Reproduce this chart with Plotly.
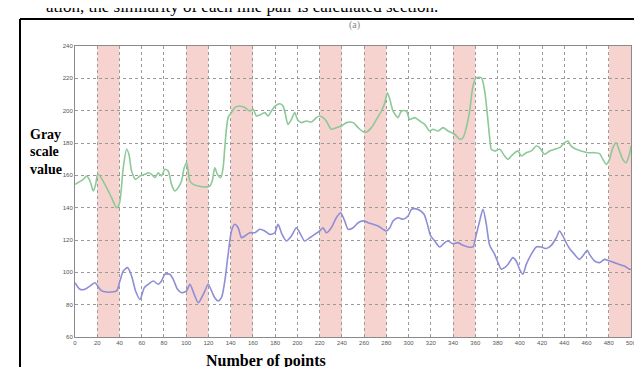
import plotly.graph_objects as go

# ---- data ----
green_x = [0, 7.5, 10.5, 13.5, 16.5, 18.6, 20.4, 22.5, 26.9, 32.9, 37.4, 39.8, 43.4, 46.4, 48.5, 50.9,
           54.5, 58.4, 62.9, 65.9, 68.9, 71.9, 74.9, 77.8, 80.8, 83.8, 86.8, 89.8, 92.8, 95.8, 98.2,
           100.3, 101.8, 103.3, 106.3, 110.8, 116.8, 121.3, 123.4, 125.7, 128.1, 131.1, 133.2, 134.7,
           137.7, 140.7, 143.7, 148.2, 152.7, 157.2, 160.2, 163.2, 166.2, 170.7, 173.7, 176.6, 180.2,
           184.1, 187.1, 189.2, 191.6, 194.6, 197.6, 200.0, 203.6, 208.1, 212.6, 217.1, 220.1, 223.1,
           226.0, 230.5, 235.0, 239.5, 244.0,
           250.1, 254.6, 259.1, 262.1, 266.6, 271.1, 275.6, 278.6, 281.0, 283.1, 286.0, 290.5, 293.5,
           298.0, 301.0, 305.5, 310.0, 314.5, 319.0, 322.0, 326.5, 331.0, 335.4, 341.4, 345.9, 348.9,
           351.9, 354.9, 357.9, 360.9, 365.4, 368.4, 370.8, 372.9, 374.4, 377.4, 381.9, 386.3, 389.3,
           393.8, 398.3, 401.3, 405.8, 410.3, 414.8, 417.8, 422.3, 426.8, 431.3, 435.7, 440.2, 443.2,
           446.2, 450.7, 455.2, 461.2, 467.2, 471.7, 474.7, 477.7, 480.7, 483.7, 486.6, 489.6, 492.6,
           495.6, 498.6, 500]
green_y = [154.4, 157.5, 159.6, 156.5, 150.3, 154.4, 160.6, 159.6, 154.4, 146.2, 140.0, 142.1, 164.7,
           176.1, 173.0, 162.7, 157.5, 159.6, 160.6, 161.6, 160.6, 158.6, 161.6, 159.6, 163.7, 162.7,
           154.4, 150.3, 152.4, 156.5, 164.7, 167.8, 162.7, 156.5, 154.4, 153.4, 152.8, 153.4, 156.5,
           164.7, 160.6, 158.6, 164.7, 177.1, 195.7, 198.8, 201.9, 202.9, 201.9, 199.8, 200.8, 196.7,
           197.3, 198.8, 196.7, 199.8, 202.9, 204.3, 202.9, 197.7, 191.5, 194.6, 198.8, 194.6, 192.6,
           193.6, 193.0, 195.7, 196.7, 195.7, 193.6, 188.5, 189.5, 190.5, 192.6,
           192.6, 189.5, 187.0, 186.8, 189.5, 194.6, 199.8, 204.9, 211.1, 207.0, 199.8, 195.7, 199.8,
           199.8, 194.6, 195.7, 193.6, 191.5, 187.4, 188.5, 187.4, 189.5, 187.4, 185.4, 182.3, 183.3,
           189.5, 199.8, 215.3, 220.4, 220.4, 212.2, 197.7, 183.3, 176.1, 175.1, 176.1, 172.0, 169.9,
           173.0, 175.1, 172.0, 174.0, 175.1, 178.1, 177.1, 173.0, 175.1, 176.1, 177.1, 180.2, 181.2,
           178.1, 176.1, 175.1, 174.0, 174.0, 173.4, 169.9, 166.8, 169.9, 177.1, 180.2, 175.1, 169.9,
           167.8, 173.0, 178.1]

blue_x = [0, 4.5, 9.0, 13.5, 18.0, 20.4, 24.0, 28.4, 32.9, 37.4, 40.4, 43.4, 47.3, 50.9, 54.5, 58.4,
          62.3, 65.9, 70.4, 74.9, 77.8, 80.8, 85.3, 88.3, 92.2, 95.8, 100.3, 103.3, 107.2, 110.8, 113.8,
          116.8, 119.8, 122.8, 125.7, 128.7, 131.7, 134.7, 137.7, 140.7, 143.7, 146.7, 149.7, 152.7,
          157.2, 161.7, 166.2, 170.7, 175.1, 179.6, 182.6, 186.2, 190.1, 194.6, 199.1, 202.1, 206.6,
          211.1, 215.6, 220.1, 223.1, 226.0, 230.5, 235.0, 238.9, 242.5,
          245.6, 250.1, 254.6, 259.1, 263.6, 268.1, 272.6, 277.1, 280.1, 283.1, 286.0, 290.5, 295.0,
          299.5, 302.5, 305.5, 310.0, 313.9, 316.9, 319.9, 323.5, 328.0, 332.5, 335.4, 339.9, 344.4,
          348.9, 353.4, 357.9, 360.9, 363.9, 366.9, 369.9, 372.9, 377.4, 380.4, 383.4, 386.3, 389.3,
          393.8, 396.8, 399.8, 402.8, 405.8, 410.3, 414.8, 419.3, 423.8, 428.3, 432.8, 435.7, 438.7,
          441.7, 444.7, 449.2, 453.7, 456.7, 460.6, 462.7, 467.2, 471.7, 476.2, 480.7, 485.1, 489.6,
          494.1, 498.6, 500]
blue_y = [93.6, 89.5, 89.5, 91.5, 93.6, 91.5, 88.5, 87.8, 87.8, 88.5, 94.6, 100.8, 102.9, 97.7, 88.5,
          83.3, 90.5, 92.6, 94.6, 92.6, 94.6, 98.8, 98.8, 95.7, 89.5, 87.4, 88.5, 92.6, 86.4, 81.2,
          84.3, 88.5, 92.6, 88.5, 84.3, 82.3, 84.3, 94.6, 111.1, 125.6, 129.7, 127.6, 121.4, 122.5,
          124.5, 124.5, 126.6, 125.6, 123.5, 124.5, 129.7, 123.5, 119.4, 122.5, 127.6, 124.5, 119.4,
          121.4, 123.5, 125.6, 127.6, 124.5, 127.6, 133.8, 136.9, 131.8,
          126.6, 127.6, 130.7, 131.8, 130.7, 129.7, 128.7, 126.6, 125.6, 127.6, 131.8, 133.8, 132.8,
          134.8, 139.0, 139.4, 138.4, 135.9, 129.7, 122.5, 119.4, 115.7, 118.4, 119.4, 117.7, 118.4,
          116.7, 115.7, 115.7, 123.5, 131.8, 139.0, 129.7, 116.7, 111.1, 106.0, 101.9, 102.9, 104.9,
          109.1, 107.0, 101.9, 98.8, 104.9, 111.1, 115.7, 115.7, 114.7, 116.7, 121.4, 125.6, 122.5,
          118.4, 114.7, 111.1, 108.0, 110.1, 113.6, 111.1, 107.0, 106.0, 108.0, 107.0, 106.0, 104.9,
          103.9, 101.9, 101.9]

band_starts = [20, 100, 140, 220, 260, 340, 480]
band_width = 20
x_ticks = list(range(0, 501, 20))
y_ticks = list(range(60, 241, 20))

# ---- layout helpers (pixel -> paper) ----
W, H = 642, 367
L, R, T, B = 67, 19, 38, 38
PW, PH = W - L - R, H - T - B


def px(x):
    return (x - L) / PW


def py(y):
    return (H - B - y) / PH


fig = go.Figure()
fig.add_trace(go.Scatter(x=green_x, y=green_y, mode="lines",
                         line=dict(color="#8cc997", width=1.6, shape="spline", smoothing=0.7),
                         showlegend=False, hoverinfo="skip"))
fig.add_trace(go.Scatter(x=blue_x, y=blue_y, mode="lines",
                         line=dict(color="#8e8ed6", width=1.6, shape="spline", smoothing=0.7),
                         showlegend=False, hoverinfo="skip"))

shapes = []
for s in band_starts:
    shapes.append(dict(type="rect", xref="x", yref="paper", x0=s, x1=s + band_width, y0=0, y1=1,
                       fillcolor="#f6d3cf", line=dict(width=0), layer="below"))
# outer black frame of the figure panel
frame = dict(color="black", width=2)
shapes.append(dict(type="line", xref="paper", yref="paper", x0=px(12), x1=px(12), y0=py(11), y1=py(370), line=frame))
shapes.append(dict(type="line", xref="paper", yref="paper", x0=px(12), x1=px(640), y0=py(11), y1=py(11), line=frame))
shapes.append(dict(type="line", xref="paper", yref="paper", x0=px(640), x1=px(640), y0=py(11), y1=py(370), line=frame))

serif = "Liberation Serif"
annotations = [
    dict(text="ation, the similarity of each line pair is calculated section.", x=px(36), y=py(-2),
         xref="paper", yref="paper", xanchor="left", yanchor="middle", showarrow=False,
         font=dict(family=serif, size=17, color="black")),
    dict(text="(a)", x=px(346), y=py(17), xref="paper", yref="paper", xanchor="center", yanchor="middle",
         showarrow=False, font=dict(family=serif, size=10, color="#888")),
    dict(text="<b>Gray</b>", x=px(20), y=py(126), xref="paper", yref="paper", xanchor="left",
         yanchor="middle", showarrow=False, font=dict(family=serif, size=14, color="black")),
    dict(text="<b>scale</b>", x=px(20), y=py(143), xref="paper", yref="paper", xanchor="left",
         yanchor="middle", showarrow=False, font=dict(family=serif, size=14, color="black")),
    dict(text="<b>value</b>", x=px(20), y=py(161), xref="paper", yref="paper", xanchor="left",
         yanchor="middle", showarrow=False, font=dict(family=serif, size=14, color="black")),
    dict(text="<b>Number of points</b>", x=px(258), y=py(353), xref="paper", yref="paper",
         xanchor="center", yanchor="middle", showarrow=False,
         font=dict(family=serif, size=16, color="black")),
]

axis_common = dict(showline=True, linecolor="#8a8a8a", linewidth=1, mirror=True,
                   showgrid=True, gridcolor="#9a9a9a", gridwidth=1, griddash="dot",
                   zeroline=False, ticks="", tickfont=dict(family="Liberation Sans", size=6, color="#555"))

fig.update_layout(
    width=W, height=H, margin=dict(l=L, r=R, t=T, b=B, autoexpand=False),
    paper_bgcolor="white", plot_bgcolor="white",
    xaxis=dict(range=[0, 500], tickvals=x_ticks, ticktext=[str(v) for v in x_ticks], **axis_common),
    yaxis=dict(range=[60, 240], tickvals=y_ticks, ticktext=[str(v) for v in y_ticks], **axis_common),
    shapes=shapes, annotations=annotations, showlegend=False,
)

fig.write_html("out.html")
